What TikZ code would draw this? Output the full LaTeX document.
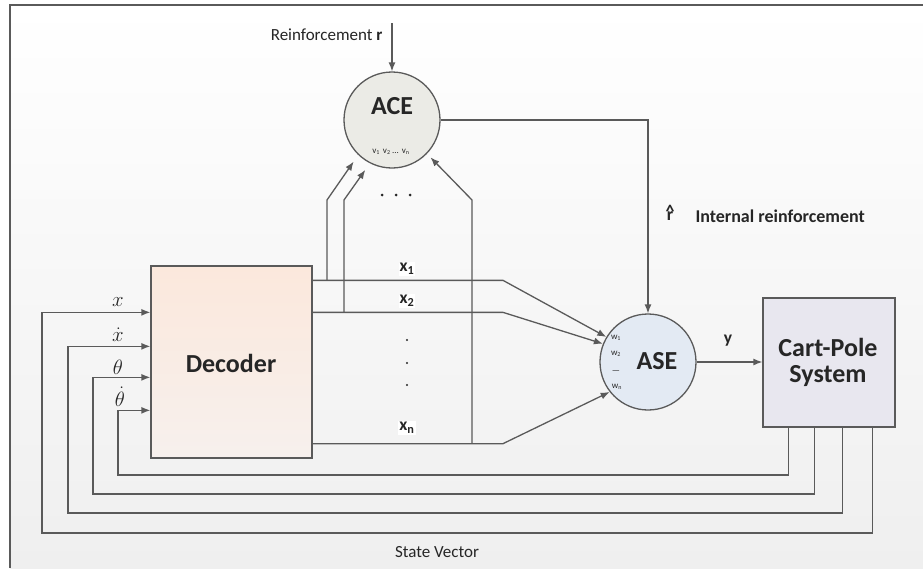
\documentclass[tikz,border=0pt]{standalone}
\usepackage{fontspec}
\setmainfont{Carlito}
\usetikzlibrary{arrows.meta,calc}
\definecolor{ln}{HTML}{5A5A5A}
\definecolor{acefill}{HTML}{EBEBE6}
\definecolor{asefill}{HTML}{E3EAF3}
\definecolor{cpfill}{HTML}{E8E7EF}
\definecolor{dectop}{HTML}{FBE8DC}
\definecolor{decbot}{HTML}{F7F0ED}
\definecolor{bgbot}{HTML}{EFEFEF}
\definecolor{txt}{HTML}{262626}
\tikzset{
  wire/.style={draw=ln, line width=1.3pt},
  arr/.style={wire, -{Latex[length=9pt,width=7pt]}},
  bigbold/.style={font=\fontsize{26}{28}\selectfont\bfseries, text=txt},
  lbl/.style={font=\fontsize{17}{19}\selectfont, text=txt},
  lblb/.style={font=\fontsize{17.5}{19}\selectfont\bfseries, text=txt},
  tiny/.style={font=\fontsize{9}{10}\selectfont, text=txt, inner sep=0pt},
  mathlbl/.style={font=\fontsize{20.74}{22}\selectfont, text=txt, anchor=base, inner sep=0pt},
  dotmark/.style={fill=txt, draw=none}
}
\begin{document}
\begin{tikzpicture}[x=1pt,y=-1pt]
\useasboundingbox (0,0) rectangle (923,568);
% background panel and frame
\shade[top color=white, bottom color=bgbot] (10,5) rectangle (923,568);
\draw[draw=ln, line width=1.4pt] (10,568) -- (10,5) -- (923,5);

% blocks
\node[circle, draw=ln, line width=1.3pt, fill=acefill, minimum size=96pt, inner sep=0pt] (ace) at (392,120) {};
\node[bigbold] (acet) at (392,106) {ACE};
\node[tiny] (acev) at (391,152) {v\textsubscript{1}\,\,v\textsubscript{2}\,...\,\,v\textsubscript{n}};

\node[circle, draw=ln, line width=1.3pt, fill=asefill, minimum size=96pt, inner sep=0pt] (ase) at (648,362) {};
\node[bigbold] (aset) at (657,361) {ASE};
\node[tiny] (w1) at (616,338) {w\textsubscript{1}};
\node[tiny] (w2) at (616,354) {w\textsubscript{2}};
\node[tiny] (wd) at (616,372) {---};
\node[tiny] (wn) at (617,387) {w\textsubscript{n}};

\node[draw=ln, line width=1.3pt, top color=dectop, bottom color=decbot, minimum width=161pt, minimum height=192pt, inner sep=0pt] (dec) at (231.5,362) {};
\node[bigbold] (dect) at (231,363) {Decoder};

\node[draw=ln, line width=1.3pt, fill=cpfill, minimum width=132pt, minimum height=129pt, inner sep=0pt] (cp) at (829,362.5) {};
\node[bigbold, align=center] (cpt) at (828,362) {Cart-Pole\\[-2pt]System};

% external reinforcement
\coordinate (rin) at (392,23);
\draw[arr] (rin) -- (ace.north);
\node[lbl, anchor=east] (rlab) at (386,35) {Reinforcement \textbf{r}};

% internal reinforcement from ACE to ASE
\draw[arr] (ace.east) -| (ase.north);
\node[font=\fontsize{18}{20}\selectfont\bfseries, text=txt, inner sep=0pt] (rhat) at (670,213) {\shortstack{\textasciicircum\\[-9pt]r}};
\node[font=\fontsize{18}{20}\selectfont\bfseries, text=txt, anchor=west] (irlab) at (692,216) {Internal reinforcement};

% decoder outputs
\path (dec.north east) ++(0,15) coordinate (o1);
\path (dec.north east) ++(0,47) coordinate (o2);
\path (dec.south east) ++(0,-15) coordinate (on);
\coordinate (bx) at (503,0);
\draw[arr] (o1) -- (o1 -| bx) -- (ase.149);
\draw[arr] (o2) -- (o2 -| bx) -- (ase.158);
\draw[arr] (on) -- (on -| bx) -- (ase.218);

% branches up to ACE
\coordinate (k1) at (327,0);
\coordinate (k2) at (344,0);
\coordinate (k3) at (472,0);
\coordinate (kt) at (0,200);
\draw[arr, shorten >=8pt] (o1 -| k1) -- (k1 |- kt) -- (ace.226);
\draw[arr, shorten >=8pt] (o2 -| k2) -- (k2 |- kt) -- (ace.243);
\draw[arr, shorten >=5pt] (on -| k3) -- (k3 |- kt) -- (ace.316);

% signal labels
\node[lblb, fill=white, inner sep=1pt] (x1) at (407,269) {x\textsubscript{1}};
\node[lblb, fill=white, inner sep=1pt] (x2) at (407,301) {x\textsubscript{2}};
\node[lblb, fill=white, inner sep=1pt] (xn) at (407,428) {x\textsubscript{n}};
\fill[dotmark] (407,340) circle (1.1pt) (407,363) circle (1.1pt) (407,385) circle (1.1pt);
\fill[dotmark] (382,195) circle (1.5pt) (396,195) circle (1.5pt) (410,195) circle (1.5pt);

% action output
\draw[arr] (ase.east) -- (ase.east -| cp.west);
\node[lblb] (ylab) at (728,341) {y};

% state feedback loops
\path (cp.south west) ++(26,0) coordinate (s4);
\path (cp.south west) ++(52,0) coordinate (s3);
\path (cp.south west) ++(80,0) coordinate (s2);
\path (cp.south west) ++(110,0) coordinate (s1);
\path (dec.north west) ++(0,47) coordinate (i1);
\path (dec.north west) ++(0,81) coordinate (i2);
\path (dec.north west) ++(0,112) coordinate (i3);
\path (dec.north west) ++(0,145) coordinate (i4);
\coordinate (c4) at (118,475);
\coordinate (c3) at (93,494);
\coordinate (c2) at (68,513);
\coordinate (c1) at (42,533);
\draw[arr] (s4) |- (c4) |- (i4);
\draw[arr] (s3) |- (c3) |- (i3);
\draw[arr] (s2) |- (c2) |- (i2);
\draw[arr] (s1) |- (c1) |- (i1);

\node[mathlbl] (lx) at (118,306) {$x$};
\node[mathlbl] (lxd) at (118,341) {$\dot{x}$};
\node[mathlbl] (lth) at (118,374) {$\theta$};
\node[mathlbl] (lthd) at (120,406) {$\dot{\theta}$};

\node[lbl] (svlab) at (437,552) {State Vector};
\end{tikzpicture}
\end{document}
